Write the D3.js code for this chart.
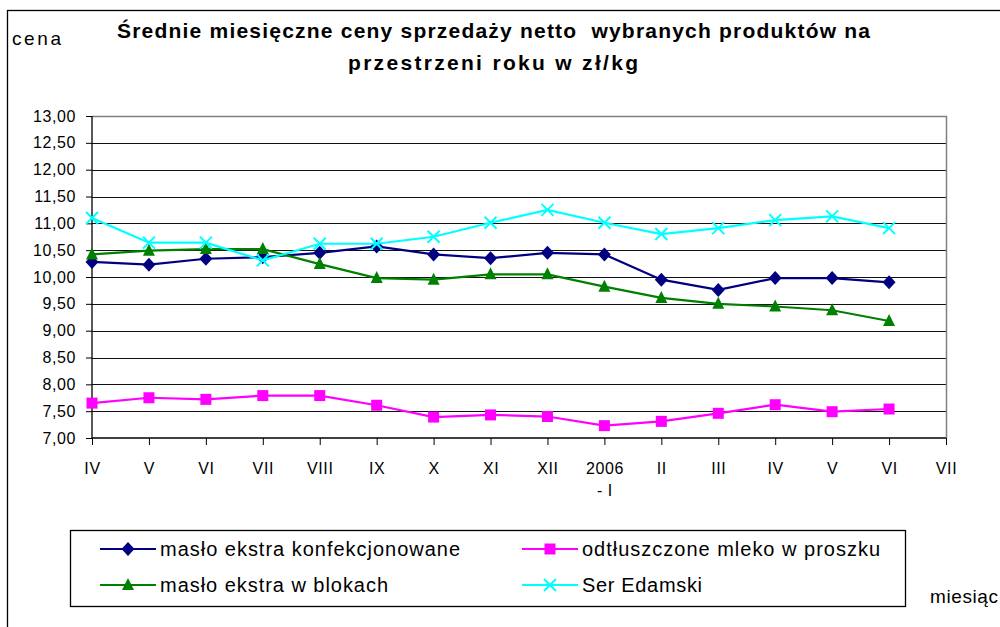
<!DOCTYPE html>
<html>
<head>
<meta charset="utf-8">
<script src="https://cdn.jsdelivr.net/npm/d3@7"></script>
<style>
  body { margin: 0; background: #fff; }
  svg { display: block; font-family: "Liberation Sans", Arial, sans-serif; }
</style>
</head>
<body>
<svg id="chart" width="1000" height="627"></svg>
<script>
var MONTHS = ["IV", "V", "VI", "VII", "VIII", "IX", "X", "XI", "XII", "2006|- I", "II", "III", "IV", "V", "VI", "VII"];

var MASLO_KONF = [10.28, 10.23, 10.34, 10.37, 10.45, 10.57, 10.42, 10.35, 10.45, 10.42, 9.95, 9.76, 9.98, 9.98, 9.90];
var MLEKO = [7.65, 7.75, 7.72, 7.79, 7.79, 7.61, 7.39, 7.43, 7.40, 7.23, 7.31, 7.46, 7.62, 7.49, 7.54];
var MASLO_BLOK = [10.42, 10.49, 10.52, 10.52, 10.24, 9.98, 9.95, 10.05, 10.05, 9.82, 9.61, 9.50, 9.45, 9.38, 9.18];
var SER = [11.10, 10.64, 10.64, 10.31, 10.62, 10.62, 10.75, 11.01, 11.25, 11.01, 10.80, 10.91, 11.06, 11.13, 10.91];

var Y_TICKS = [7, 7.5, 8, 8.5, 9, 9.5, 10, 10.5, 11, 11.5, 12, 12.5, 13];

var SERIES = [
    { name: "masło ekstra konfekcjonowane", values: MASLO_KONF, color: "#000080", marker: "diamond", textW: 300 },
    { name: "odtłuszczone mleko w proszku", values: MLEKO, color: "#ff00ff", marker: "square", textW: 298 },
    { name: "masło ekstra w blokach", values: MASLO_BLOK, color: "#008000", marker: "triangle", textW: 228 },
    { name: "Ser Edamski", values: SER, color: "#00ffff", marker: "cross", textW: 120 }
];

var margin = { left: 92, right: 54, top: 116, bottom: 189 };
var svg = d3.select("#chart");
var W = 1000, H = 627;
var plotW = W - margin.left - margin.right;
var plotH = H - margin.top - margin.bottom;
var FONT = "Liberation Sans, Arial, sans-serif";

// outer chart frame
svg.append("rect").attr("x", 7.5).attr("y", 10.5).attr("width", 1000).attr("height", 700)
    .attr("fill", "none").attr("stroke", "#000").attr("stroke-width", 1.3);

var x = d3.scalePoint().domain(d3.range(MONTHS.length)).range([0, plotW]);
var y = d3.scaleLinear().domain([7, 13]).range([plotH, 0]);

var chart = svg.append("g").attr("transform", "translate(" + margin.left + "," + margin.top + ")");

// gridlines
chart.append("g").selectAll("line").data(Y_TICKS.slice(1, -1)).enter().append("line")
    .attr("x1", 0).attr("x2", plotW)
    .attr("y1", d => Math.round(y(d)) + 0.5).attr("y2", d => Math.round(y(d)) + 0.5)
    .attr("stroke", "#111").attr("stroke-width", 1);

// plot border (top / right)
chart.append("path")
    .attr("d", "M0," + (Math.round(y(13)) + 0.5) + "H" + (plotW + 0.5) + "V" + plotH)
    .attr("fill", "none").attr("stroke", "#808080").attr("stroke-width", 1.5);

// y axis
var yAxis = d3.axisLeft(y).tickValues(Y_TICKS).tickSize(6).tickPadding(10)
    .tickFormat(d => d3.format(".2f")(d).replace(".", ","));
var gy = chart.append("g").call(yAxis);
gy.select(".domain").attr("stroke", "#000").attr("stroke-width", 1.3).attr("d", "M0,0V" + plotH);
gy.selectAll("line").attr("stroke", "#000");
gy.selectAll("text").attr("font-size", 16).attr("letter-spacing", 0.6).attr("fill", "#000").attr("font-family", FONT);

// x axis
var xAxis = d3.axisBottom(x).tickSize(7).tickPadding(18).tickFormat(() => "");
var gx = chart.append("g").attr("transform", "translate(0," + plotH + ")").call(xAxis);
gx.select(".domain").attr("stroke", "#000").attr("stroke-width", 1.3).attr("d", "M0,0H" + plotW);
gx.selectAll("line").attr("stroke", "#000");
gx.selectAll(".tick").each(function (d) {
    var parts = MONTHS[d].split("|");
    var t = d3.select(this).select("text").attr("font-size", 16).attr("letter-spacing", 0.6).attr("fill", "#000")
        .attr("font-family", FONT).attr("dy", null).attr("y", 36);
    parts.forEach(function (p, i) {
        t.append("tspan").attr("x", 0).attr("dy", i === 0 ? 0 : 22).text(p);
    });
});

// markers
function drawMarker(g, type, color, cx, cy) {
    if (type === "diamond") {
        g.append("path").attr("d", "M" + cx + "," + (cy - 7) + "L" + (cx + 6.5) + "," + cy + "L" + cx + "," + (cy + 7) + "L" + (cx - 6.5) + "," + cy + "Z")
            .attr("fill", color);
    } else if (type === "square") {
        g.append("rect").attr("x", cx - 5.5).attr("y", cy - 5.5).attr("width", 11).attr("height", 11).attr("fill", color);
    } else if (type === "triangle") {
        g.append("path").attr("d", "M" + cx + "," + (cy - 7) + "L" + (cx + 6) + "," + (cy + 5) + "L" + (cx - 6) + "," + (cy + 5) + "Z")
            .attr("fill", color);
    } else {
        g.append("path").attr("d", "M" + (cx - 6) + "," + (cy - 6) + "L" + (cx + 6) + "," + (cy + 6) + "M" + (cx + 6) + "," + (cy - 6) + "L" + (cx - 6) + "," + (cy + 6))
            .attr("stroke", color).attr("stroke-width", 2).attr("fill", "none");
    }
}

var line = d3.line().x((d, i) => x(i)).y(d => y(d));

SERIES.forEach(function (s) {
    var g = chart.append("g");
    g.append("path").datum(s.values).attr("d", line)
        .attr("fill", "none").attr("stroke", s.color).attr("stroke-width", 2.2);
    s.values.forEach(function (v, i) { drawMarker(g, s.marker, s.color, x(i), y(v)); });
});

// title and axis captions
svg.append("text").attr("x", 117).attr("y", 38)
    .attr("font-size", 21).attr("font-weight", "bold")
    .attr("textLength", 753).attr("lengthAdjust", "spacing").attr("xml:space", "preserve")
    .text("Średnie miesięczne ceny sprzedaży netto  wybranych produktów na");
svg.append("text").attr("x", 348).attr("y", 70)
    .attr("font-size", 21).attr("font-weight", "bold")
    .attr("textLength", 290).attr("lengthAdjust", "spacing")
    .text("przestrzeni roku w zł/kg");
svg.append("text").attr("x", 12).attr("y", 45).attr("font-size", 19)
    .attr("textLength", 49).attr("lengthAdjust", "spacing").text("cena");
svg.append("text").attr("x", 930).attr("y", 603).attr("font-size", 19)
    .attr("textLength", 68).attr("lengthAdjust", "spacing").text("miesiąc");

// legend
var legend = svg.append("g");
legend.append("rect").attr("x", 70.5).attr("y", 530.5).attr("width", 835).attr("height", 76)
    .attr("fill", "#fff").attr("stroke", "#000").attr("stroke-width", 1.3);
var LEG_POS = [[100, 549], [522, 549], [100, 585], [522, 585]];
SERIES.forEach(function (s, i) {
    var px = LEG_POS[i][0], py = LEG_POS[i][1];
    var g = legend.append("g");
    g.append("line").attr("x1", px).attr("x2", px + 56).attr("y1", py).attr("y2", py)
        .attr("stroke", s.color).attr("stroke-width", 2.2);
    drawMarker(g, s.marker, s.color, px + 28, py);
    g.append("text").attr("x", px + 60).attr("y", py + 7).attr("font-size", 20)
        .attr("textLength", s.textW).attr("lengthAdjust", "spacing").text(s.name);
});
</script>
</body>
</html>
